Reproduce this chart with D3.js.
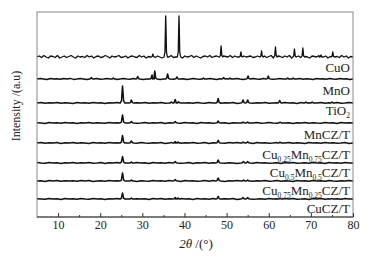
<!DOCTYPE html>
<html><head><meta charset="utf-8">
<script src="https://cdn.jsdelivr.net/npm/d3@7"></script>
<style>body{margin:0;background:#fff}svg{display:block}</style>
</head><body><svg id="c" width="373" height="256"></svg>
<script>
// ---------- data ----------
const categories = ["CuO","MnO","TiO2","MnCZ/T","Cu0.25Mn0.75CZ/T","Cu0.5Mn0.5CZ/T","Cu0.75Mn0.25CZ/T","CuCZ/T"];
// label pieces: [text, isSubscript]
const labelParts = [
  [["CuO",0]],
  [["MnO",0]],
  [["TiO",0],["2",1]],
  [["MnCZ/T",0]],
  [["Cu",0],["0.25",1],["Mn",0],["0.75",1],["CZ/T",0]],
  [["Cu",0],["0.5",1],["Mn",0],["0.5",1],["CZ/T",0]],
  [["Cu",0],["0.75",1],["Mn",0],["0.25",1],["CZ/T",0]],
  [["CuCZ/T",0]]
];
// stacking offsets (a.u.)
const offsets = [160,138,114,94,74,54,36,18];
const xTicks = [10,20,30,40,50,60,70,80];
const xMinorTicks = [15,25,35,45,55,65,75];

// peaks: [2theta, height]
const peaksCuO = [[32.5,3],[35.55,41],[38.7,41],[48.7,11],[53.4,5],[58.3,6],[61.6,10],[66.1,8],[68.1,9],[72.4,2],[75.2,5]];
const peaksMnO = [[17.9,1.5],[23.1,1],[28.9,2.5],[32.3,4],[32.95,8],[36.0,5],[38.2,2],[44.5,1],[49.3,1.5],[50.8,1],[55.1,3],[59.9,3],[64.5,1],[65.8,1]];
const peaksTiO2 = [[25.3,17],[27.4,3],[36.9,1],[37.8,3.5],[38.6,1.2],[48.0,4.5],[53.9,3],[55.0,3],[62.6,2.5],[68.8,1],[70.3,1],[75.0,1]];
const peaksMnCZ = [[25.3,8],[27.4,1.5],[37.8,1.5],[48.0,2],[53.9,1],[55.0,1],[62.7,0.8]];
const peaksCu25 = [[25.3,7.5],[27.4,2],[36.9,0.6],[37.8,1.5],[38.5,1],[48.0,2.5],[53.9,1],[55.0,1.2],[62.7,0.7]];
const peaksCu50 = [[25.3,6.5],[27.4,1],[37.8,1.5],[48.0,3],[54.0,1.5],[55.0,1.5]];
const peaksCu75 = [[25.3,8],[27.4,1],[37.8,1.5],[48.0,3],[54.0,1],[55.0,1]];
const peaksCuCZ = [[25.3,6],[27.4,1],[37.8,1.5],[38.5,1],[48.0,2.5],[53.9,1.5],[55.0,1.5],[62.7,0.5],[75.0,0.5]];

// baseline wiggle read along each pattern (a.u.), evenly spaced from 5 to 80 deg
const noiseCuO = [0,1,-0.5,1.5,0,-1,1,0.5,-0.5,1.5,-1,0,1,-0.5,0.5,1.5,0,-1,1,0,
  0.5,-0.5,1.5,0,1,-1,0.5,1,-0.5,0,1.5,0.5,-1,1,0,0.5,1.5,-0.5,0,1,
  -1,0.5,1,0,-0.5,1.5,0,1,-1,0.5,0,1.5,-0.5,1,0,-1,0.5,1,0,1.5,
  -0.5,0,1,0.5,-1,1,0,0.5,1.5,-0.5,1,0,-1,0.5,1,0,1.5,-0.5,0.5,1,
  0,-1,1,0.5,0,1.5,-0.5,1,0,0.5,-1,1,0,0.5,1,-0.5,0,1,0.5,0,
  1,-0.5,0.5,1.5,-1,0,1,0.5,-0.5,1,0,1.5,-1,0.5,0,1,-0.5,1,0.5,0,
  -1,1,0.5,0,1.5,-0.5,0,1,-1,0.5,1,0,0.5,-0.5,1.5,0,1,-1,0.5,0];
const noiseMnO = [0,0.5,0,-0.5,0.5,0,0.3,-0.3,0.5,0,0.6,-0.4,0,0.5,0,-0.5,0.4,0,0.5,-0.3,
  0,0.5,0,0.3,-0.5,0,0.5,0,-0.3,0.4,0,0.5,-0.4,0,0.3,0,0.5,-0.5,0,0.4,
  0,-0.3,0.5,0,0.3,-0.4,0,0.5,0,-0.3,0.4,0,0.5,0,-0.5,0.3,0,0.4,-0.3,0,
  0.5,0,-0.4,0.3,0,0.5,0,-0.3,0.4,0,0.5,-0.3,0,0.4,0,0.3,
  0.4,-0.3,0,0.5,-0.2,0.3,0,-0.4,0.4,0,0.3,-0.3,0.5,0,-0.2,0.4,0,0.3,-0.4,0];
const noiseTiO2 = [0,0.4,-0.3,0.3,0,0.5,-0.2,0.3,0,-0.4,0.4,0,0.3,-0.3,0.5,0,0.2,-0.4,0.3,0,
  0.4,-0.2,0,0.5,-0.3,0.2,0,0.4,-0.3,0.3,0,0.5,-0.2,0,0.3,-0.4,0.4,0,0.2,-0.3,
  0.5,0,-0.2,0.4,0,0.3,-0.3,0.2,0,0.4,-0.4,0.3,0,0.5,-0.2,0.3,0,0.4,-0.3,0,
  0.3,-0.3,0.4,0,0.2,-0.4,0.5,0,0.3,-0.2,0,0.4,-0.3,0.3,0,0.5,-0.2,0,0.4,0];
const noiseMnCZ = [0.3,0,-0.4,0.4,0,0.3,-0.3,0.5,0,0.2,-0.4,0.3,0,0.4,-0.2,0.3,0,-0.3,0.5,0,
  0.3,-0.4,0,0.4,0.2,-0.3,0,0.5,-0.2,0.3,0,0.4,-0.4,0.2,0,0.3,-0.3,0.5,0,0.2,
  -0.4,0.4,0,0.3,-0.2,0.5,0,0.3,-0.4,0.2,0,0.4,-0.3,0.3,0,0.5,-0.2,0,0.4,0,
  -0.3,0.4,0,0.3,-0.4,0.2,0,0.5,-0.3,0.3,0,-0.2,0.4,0,0.3,-0.4,0.5,0,0.2,0];
const noiseCu25 = [0,0.5,-0.3,0.3,0,0.4,-0.4,0.2,0,0.5,-0.2,0.3,0,-0.4,0.4,0,0.3,-0.3,0.5,0,
  0.2,-0.4,0.4,0,0.3,-0.2,0.5,0,-0.3,0.3,0,0.4,-0.4,0.2,0,0.5,-0.3,0.3,0,0.4,
  -0.2,0,0.5,-0.4,0.3,0,0.2,-0.3,0.4,0,0.5,-0.2,0,0.3,-0.4,0.4,0,0.3,-0.2,0,
  0.4,-0.3,0,0.5,-0.2,0.3,0,-0.4,0.4,0,0.2,-0.3,0.5,0,0.3,-0.2,0,0.4,-0.4,0];
const noiseCu50 = [0.4,0,-0.3,0.5,0,0.2,-0.4,0.3,0,0.4,-0.3,0.2,0,0.5,-0.2,0,0.4,-0.4,0.3,0,
  0.5,-0.3,0,0.2,-0.2,0.4,0,0.3,-0.4,0.5,0,0.2,-0.3,0.4,0,0.3,-0.2,0,0.5,-0.4,
  0.3,0,0.4,-0.3,0.2,0,0.5,-0.2,0.3,0,-0.4,0.4,0,0.2,-0.3,0.5,0,0.3,-0.2,0,
  0.3,-0.4,0.4,0,0.5,-0.2,0,0.3,-0.3,0.4,0,0.2,-0.4,0.5,0,0.3,-0.2,0.4,0,0];
const noiseCu75 = [0,0.3,-0.4,0.4,0,0.5,-0.2,0.2,0,0.3,-0.3,0.5,0,0.4,-0.4,0,0.3,-0.2,0.4,0,
  0.2,-0.3,0.5,0,0.4,-0.4,0.3,0,-0.2,0.5,0,0.3,-0.3,0.4,0,0.2,-0.4,0.5,0,0.3,
  -0.3,0,0.4,-0.2,0.5,0,0.3,-0.4,0.2,0,0.4,-0.3,0,0.5,-0.2,0.3,0,0.4,-0.3,0,
  0.5,-0.2,0.3,0,-0.4,0.4,0,0.3,-0.3,0.5,0,0.2,-0.2,0.4,0,-0.3,0.3,0,0.4,0];
const noiseCuCZ = [0.3,0,-0.3,0.4,0,0.2,-0.4,0.5,0,0.3,-0.2,0.4,0,-0.3,0.5,0,0.2,-0.4,0.3,0,
  0.4,-0.2,0,0.5,-0.3,0.3,0,0.2,-0.4,0.4,0,0.5,-0.2,0.3,0,-0.3,0.4,0,0.2,-0.4,
  0.5,0,0.3,-0.2,0.4,0,-0.3,0.3,0,0.5,-0.4,0.2,0,0.4,-0.2,0,0.3,-0.3,0.4,0,
  0.2,-0.3,0.5,0,0.4,-0.2,0,0.3,-0.4,0.4,0,0.5,-0.3,0.2,0,0.3,-0.2,0.4,0,0];

const peakSets = [peaksCuO,peaksMnO,peaksTiO2,peaksMnCZ,peaksCu25,peaksCu50,peaksCu75,peaksCuCZ];
const noiseSets = [noiseCuO,noiseMnO,noiseTiO2,noiseMnCZ,noiseCu25,noiseCu50,noiseCu75,noiseCuCZ];
const peakWidth = [1,1.3,1.4,1.5,1.5,1.5,1.5,1.5];
const labelGap = [7,8,8,4.5,4,4.5,4.5,4];

// ---------- layout ----------
const W=373,H=256;
const m={l:37,r:20,t:12,b:39};
const x=d3.scaleLinear().domain([5,80]).range([m.l,W-m.r]);
const y=d3.scaleLinear().domain([0,205]).range([H-m.b,m.t]);
const svg=d3.select("#c");
const serif="'Liberation Serif','Times New Roman',serif";

// peak profile (relative offsets in deg, relative height)
const prof=[[-0.4,0],[-0.18,0.12],[-0.07,0.7],[0,1],[0.07,0.7],[0.18,0.12],[0.4,0]];

const series = categories.map((c,i)=>{
  const nz=noiseSets[i], n=nz.length, w=peakWidth[i];
  const pk=peakSets[i];
  let pts=[];
  nz.forEach((v,k)=>{
    const tx=5+k*75/(n-1);
    if(!pk.some(p=>Math.abs(p[0]-tx)<0.45*w)) pts.push([tx,v]);
  });
  pk.forEach(p=>prof.forEach(q=>pts.push([p[0]+q[0]*w,p[1]*q[1]])));
  pts.sort((a,b)=>a[0]-b[0]);
  pts=pts.filter(p=>p[0]>=5&&p[0]<=80);
  return {name:c,i,pts};
});

const line=d3.line().x(d=>x(d[0])).y(d=>d[1]);
svg.append("clipPath").attr("id","cp").append("rect")
  .attr("x",m.l).attr("y",m.t).attr("width",W-m.l-m.r).attr("height",H-m.t-m.b);
const g=svg.append("g").attr("clip-path","url(#cp)");
g.selectAll("path.s").data(series).join("path").attr("class","s")
  .attr("fill","none").attr("stroke","#111")
  .attr("stroke-width",d=>d.i===0?1.3:1.5).attr("stroke-linejoin","round")
  .attr("d",d=>line(d.pts.map(p=>[p[0],y(offsets[d.i]+p[1])])));

// frame
svg.append("rect").attr("x",m.l).attr("y",m.t).attr("width",W-m.l-m.r).attr("height",H-m.t-m.b)
  .attr("fill","none").attr("stroke","#8a8a8a").attr("stroke-width",1);
svg.append("line").attr("x1",m.l).attr("x2",W-m.r).attr("y1",H-m.b).attr("y2",H-m.b)
  .attr("stroke","#333").attr("stroke-width",1.2);

// axes
const ax=svg.append("g").attr("transform",`translate(0,${H-m.b})`)
  .call(d3.axisBottom(x).tickValues(xTicks).tickSize(-4).tickPadding(3));
ax.select(".domain").remove();
ax.selectAll("line").attr("stroke","#333");
ax.selectAll("text").attr("font-family",serif).attr("font-size",12).attr("fill","#222");
const axm=svg.append("g").attr("transform",`translate(0,${H-m.b})`)
  .call(d3.axisBottom(x).tickValues(xMinorTicks).tickSize(-2).tickFormat(""));
axm.select(".domain").remove();
axm.selectAll("line").attr("stroke","#333");

// series labels
series.forEach(s=>{
  const nextBase = s.i<offsets.length-1 ? y(offsets[s.i+1]) : H-m.b;
  const t=svg.append("text").attr("x",W-m.r-3).attr("y",nextBase-labelGap[s.i])
    .attr("text-anchor","end").attr("font-family",serif).attr("font-size",13).attr("fill","#222");
  let lowered=false;
  labelParts[s.i].forEach(([txt,sub])=>{
    if(sub){ t.append("tspan").attr("font-size",7.5).attr("dy",3).text(txt); lowered=true; }
    else { t.append("tspan").attr("dy",lowered?-3:0).text(txt); lowered=false; }
  });
});

// axis titles
const xt=svg.append("text").attr("x",196).attr("y",248).attr("text-anchor","middle")
  .attr("font-family",serif).attr("font-size",13).attr("fill","#222");
xt.append("tspan").attr("font-style","italic").text("2θ");
xt.append("tspan").text(" /(°)");
svg.append("text").attr("transform","translate(20,106) rotate(-90)").attr("text-anchor","middle")
  .attr("font-family",serif).attr("font-size",12).attr("fill","#222").text("Intensity /(a.u)");
</script></body></html>
